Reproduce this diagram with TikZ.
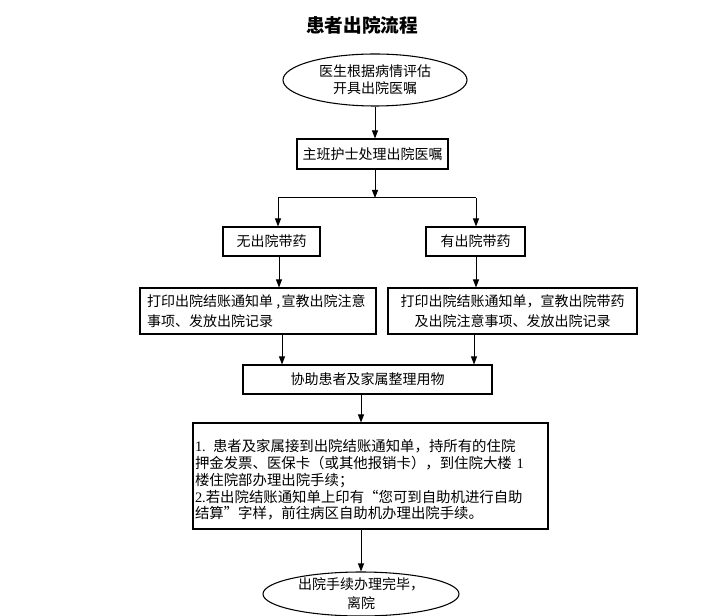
\documentclass[tikz,border=0pt]{standalone}
\usepackage{fontspec}
\newfontfamily\cjk{Noto Sans CJK SC}
\newfontfamily\tnr{Liberation Serif}
\usetikzlibrary{arrows.meta,shapes.geometric}
\tikzset{
  boxnode/.style={draw, line width=0.8pt, rectangle, inner sep=0pt, align=center,
    font=\cjk\fontsize{10.5pt}{15pt}\selectfont},
  ellnode/.style={draw, ellipse, line width=0.8pt, inner sep=0pt, align=center},
  arr/.style={-{Triangle[length=6pt,width=4.5pt]}, line width=0.75pt},
  ln/.style={line width=0.75pt},
}
\begin{document}
\begin{tikzpicture}[x=0.75pt,y=-0.75pt]
\useasboundingbox (0,0) rectangle (706,616);
\fill[white] (0,0) rectangle (706,616);
\node (title) at (362,25) {\cjk\bfseries\fontsize{14pt}{16pt}\selectfont 患者出院流程};
\node[ellnode, minimum width=138pt, minimum height=39pt,
  font=\cjk\fontsize{10.5pt}{12.75pt}\selectfont] (e1) at (375,80)
  {医生根据病情评估\\开具出院医嘱};
\node[boxnode, minimum width=113.25pt, minimum height=22.5pt] (b2) at (372.5,154)
  {主班护士处理出院医嘱};
\node[boxnode, minimum width=72.75pt, minimum height=21.75pt] (wu) at (271.5,241.5)
  {无出院带药};
\node[boxnode, minimum width=74.25pt, minimum height=21.75pt] (you) at (475.5,241.5)
  {有出院带药};
\node[boxnode, minimum width=177pt, minimum height=34.5pt, text width=166.5pt,
  inner xsep=5.25pt, align=left] (pl) at (258,311)
  {打印出院结账通知单\kern2.5pt,\kern1pt 宣教出院注意\\事项、发放出院记录};
\node[boxnode, minimum width=186.75pt, minimum height=34.5pt] (pr) at (512.5,311)
  {打印出院结账通知单，宣教出院带药\\及出院注意事项、发放出院记录};
\node[boxnode, minimum width=186.75pt, minimum height=21.75pt] (xz) at (367.5,379.5)
  {协助患者及家属整理用物};
\node[boxnode, minimum width=266.25pt, minimum height=79.5pt, text width=263.25pt,
  inner xsep=1.5pt, align=left, font=\cjk\fontsize{10.8pt}{12.6pt}\selectfont] (big) at (370.5,476)
  {\rule{0pt}{15pt}{\tnr 1.} 患者及家属接到出院结账通知单，持所有的住院\\
   押金发票、医保卡（或其他报销卡），到住院大楼 {\tnr 1}\\
   楼住院部办理出院手续；\\
   {\tnr 2.}若出院结账通知单上印有“您可到自助机进行自助\\
   结算”字样，前往病区自助机办理出院手续。};
\node[ellnode, minimum width=147pt, minimum height=33pt, inner ysep=-1.5pt,
  font=\cjk\fontsize{10.5pt}{14.25pt}\selectfont] (e2) at (361,594)
  {出院手续办理完毕，\\离院};
% junction coordinates
\coordinate (j) at (375,198);
\coordinate (jL) at (278,198);
\coordinate (jR) at (476,198);
\coordinate (xa) at (279,0);
\coordinate (xb) at (282,0);
\coordinate (xc) at (476,0);
\coordinate (xd) at (474,0);
% connectors
\draw[arr] (e1.south) -- (e1.south |- b2.north);
\draw[arr] (b2.south -| j) -- (j);
\draw[ln] (jL) -- (jR);
\draw[arr] (jL) -- (jL |- wu.north);
\draw[arr] (jR) -- (jR |- you.north);
\draw[arr] (wu.south -| xa) -- (pl.north -| xa);
\draw[arr] (you.south -| xc) -- (pr.north -| xc);
\draw[arr] (pl.south -| xb) -- (xz.north -| xb);
\draw[arr] (pr.south -| xd) -- (xz.north -| xd);
\draw[arr] (xz.south -| e2) -- (big.north -| e2);
\draw[arr] (big.south -| e2) -- (e2.north);
\end{tikzpicture}
\end{document}
